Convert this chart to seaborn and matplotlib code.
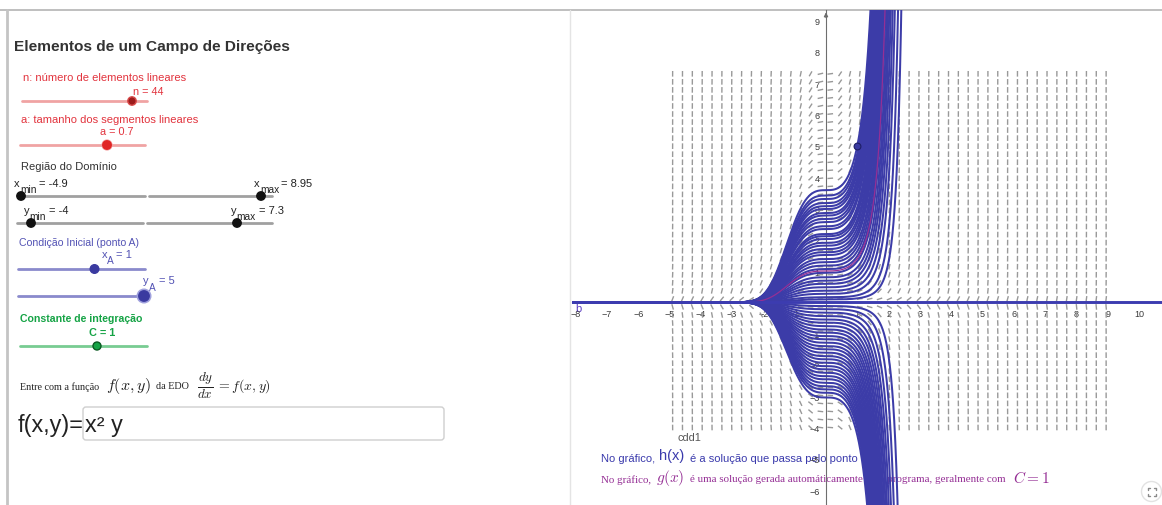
import numpy as np
import pandas as pd
import matplotlib
matplotlib.use("Agg")
import matplotlib.pyplot as plt
import seaborn as sns
from matplotlib.collections import LineCollection
from matplotlib.patches import Circle, FancyBboxPatch

# ------------------------------------------------------------------ data
n_elem = 44          # número de elementos lineares
a_len = 0.7          # tamanho dos segmentos lineares
x_min, x_max = -4.9, 8.95
y_min, y_max = -4.0, 7.3
x_A, y_A = 1.0, 5.0  # condição inicial (ponto A)
C_g = 1.0            # constante de integração de g(x)

# constants C of the family y = C*exp(x^3/3) drawn in the graph (read at x = 0)
C_upper = [3.41, 3.30, 3.17, 3.07, 2.98, 2.85, 2.77, 2.66, 2.56, 2.43, 2.34,
           2.18, 2.11, 2.02, 1.90, 1.81, 1.70, 1.60, 1.51, 1.38, 1.28, 1.17,
           1.06, 0.94, 0.80, 0.69, 0.59, 0.48, 0.37, 0.27, 0.16, 0.09]
C_lower = [-0.12, -0.22, -0.33, -0.44, -0.55, -0.65, -0.76, -0.87, -0.97,
           -1.08, -1.18, -1.29, -1.40, -1.50, -1.61, -1.72, -1.82, -1.93,
           -2.04, -2.14, -2.25, -2.36, -2.46, -2.57, -2.68, -2.78, -2.89, -3.04]

x_ticks = [-8, -7, -6, -5, -4, -3, -2, -1, 1, 2, 3, 4, 5, 6, 7, 8, 9, 10]
y_ticks = [-6, -5, -4, -3, -2, -1, 1, 2, 3, 4, 5, 6, 7, 8, 9]


def f(x, y):
    return x ** 2 * y


# ------------------------------------------------------------------ style
sns.set_theme(style="white")
plt.rcParams["font.family"] = ["Liberation Sans", "DejaVu Sans"]
plt.rcParams["mathtext.fontset"] = "cm"

W, H = 1162, 506
fig = plt.figure(figsize=(W / 100, H / 100), dpi=100)
fig.patch.set_facecolor("white")

# background / left panel in pixel coordinates
bg = fig.add_axes([0, 0, 1, 1])
bg.set_xlim(0, W)
bg.set_ylim(H, 0)
bg.axis("off")

BLUE = "#3c3ca8"
PURPLE = "#952f95"
RED_TXT = "#e2333d"

# frame lines
bg.plot([0, W], [10.5, 10.5], color="#b4b4b4", lw=1.2)
bg.plot([7, 7], [10.5, H], color="#c4c4c4", lw=2.0)
bg.plot([570, 570], [10.5, H], color="#e4e4e4", lw=1.0)

# title
bg.text(14, 47, "Elementos de um Campo de Direções", fontsize=11.1,
        fontweight="bold", color="#333333", va="center", ha="left")


def slider(x0, x1, y, kx, line_c, knob_c, r=4.2, edge=None, halo=None, halo_r=0):
    bg.plot([x0, x1], [y, y], color=line_c, lw=2.0, solid_capstyle="round", zorder=2)
    if halo is not None:
        bg.add_patch(Circle((kx, y), halo_r, facecolor=halo, edgecolor="none", zorder=3))
    bg.add_patch(Circle((kx, y), r, facecolor=knob_c,
                        edgecolor=edge if edge else knob_c, lw=1.0, zorder=4))


def txt(x, y, s, c="#222222", fs=8.0, **kw):
    bg.text(x, y, s, color=c, fontsize=fs, va="center", ha="left", **kw)


# n slider
txt(23, 78, "n: número de elementos lineares", RED_TXT)
bg.text(148, 92, f"n = {n_elem}", color=RED_TXT, fontsize=7.8, va="center", ha="center")
slider(22, 147, 102, 132, "#f0a3a3", "#9c1b1b", r=4.2, edge="#d94a4a")

# a slider
txt(21, 120, "a: tamanho dos segmentos lineares", RED_TXT)
bg.text(117, 132, f"a = {a_len}", color=RED_TXT, fontsize=7.8, va="center", ha="center")
slider(20, 145, 146, 107, "#f0a3a3", "#e02525", r=4.2, halo="#f3a0a0", halo_r=5.6)

# domain
txt(21, 167, "Região do Domínio", "#333333")
txt(14, 184, "x", "#222222")
txt(20.5, 190, "min", "#222222", fs=7.3)
txt(39, 184, f"= {x_min}", "#222222")
slider(20, 145, 197, 21, "#a0a0a0", "#111111", r=4.2)
txt(254, 184, "x", "#222222")
txt(260, 190, "max", "#222222", fs=7.3)
txt(281, 184, f"= {x_max}", "#222222")
slider(149, 272, 197, 261, "#a0a0a0", "#111111", r=4.2)

txt(23.5, 211, "y", "#222222")
txt(29, 217, "min", "#222222", fs=7.3)
txt(49, 211, f"= {int(y_min)}", "#222222")
slider(17, 143, 224, 31, "#a0a0a0", "#111111", r=4.2)
txt(231, 211, "y", "#222222")
txt(236.5, 217, "max", "#222222", fs=7.3)
txt(259, 211, f"= {y_max}", "#222222")
slider(147, 272, 224, 237, "#a0a0a0", "#111111", r=4.2)

# initial condition
BL_TXT = "#5252b4"
txt(19, 243, "Condição Inicial (ponto A)", BL_TXT, fs=7.6)
txt(101.5, 255, "x", BL_TXT)
txt(107, 261.5, "A", BL_TXT, fs=7.3)
txt(116, 255, f"= {int(x_A)}", BL_TXT)
slider(18, 145, 270, 94.5, "#8a8acc", "#3a3aa0", r=4.3)
txt(143, 281, "y", BL_TXT)
txt(149, 288, "A", BL_TXT, fs=7.3)
txt(159, 281, f"= {int(y_A)}", BL_TXT)
slider(18, 145, 297, 144, "#8a8acc", "#3a3aa0", r=5.2, halo="#9fa0dd", halo_r=7.5)

# integration constant
GR = "#15a345"
txt(20, 319, "Constante de integração", GR, fs=7.6, fontweight="bold")
bg.text(102, 333, f"C = {int(C_g)}", color=GR, fontsize=7.8, fontweight="bold",
        va="center", ha="center")
slider(20, 147, 347, 97, "#78cc92", "#15a345", r=4.0, edge="#0a5a22")

# ODE entry line
bg.text(20.5, 387, "Entre com a função", fontsize=7.3, family="Liberation Serif",
        color="#222222", va="center", ha="left")
bg.text(106, 386, r"$f(x,y)$", fontsize=11.5, color="#222222", va="center", ha="left")
bg.text(156, 387, "da EDO", fontsize=7.3, family="Liberation Serif",
        color="#222222", va="center", ha="left")
bg.text(197, 386, r"$\frac{dy}{dx}$", fontsize=13.5, color="#222222", va="center", ha="left")
bg.text(216, 386, r"$= f(x,y)$", fontsize=10, color="#222222", va="center", ha="left")

bg.text(18, 426, "f(x,y)=", fontsize=16.8, color="#222222", va="center", ha="left")
bg.add_patch(FancyBboxPatch((83, 408), 361, 33, boxstyle="round,pad=0,rounding_size=3",
                            facecolor="white", edgecolor="#cfcfcf", lw=1.0))
bg.text(85, 426, "x² y", fontsize=16.8, color="#222222", va="center", ha="left")

# texts under the graph
bg.text(678, 438, "cdd1", fontsize=7.8, color="#555555", va="center", ha="left")
TB = "#3a3aac"
bg.text(601, 459, "No gráfico,", fontsize=8.0, color=TB, va="center", ha="left")
bg.text(659, 456, "h(x)", fontsize=10.5, color=TB, va="center", ha="left")
bg.text(690, 459, "é a solução que passa pelo ponto", fontsize=8.0, color=TB,
        va="center", ha="left")
bg.text(601, 480, "No gráfico,", fontsize=7.9, family="Liberation Serif",
        color=PURPLE, va="center", ha="left")
bg.text(656, 478, r"$g(x)$", fontsize=11, color=PURPLE, va="center", ha="left")
bg.text(690, 480, "é uma solução gerada automáticamente pelo programa, geralmente com",
        fontsize=7.9, family="Liberation Serif", color=PURPLE, va="center", ha="left")
bg.text(1013, 478, r"$C = 1$", fontsize=11, color=PURPLE, va="center", ha="left")
bg.text(575, 309, "b", fontsize=8, color="#5a3cc0", va="center", ha="left")

# fullscreen button
bg.add_patch(Circle((1151.5, 492.5), 10, facecolor="white", edgecolor="#e2e2e2", lw=1.0))
cx, cy, s, k = 1151.5, 492.5, 4.0, 2.0
for sx in (-1, 1):
    for sy in (-1, 1):
        bg.plot([cx + sx * s, cx + sx * s, cx + sx * (s - k)],
                [cy + sy * (s - k), cy + sy * s, cy + sy * s], color="#8a8a8a", lw=1.0)

# ------------------------------------------------------------------ graph
x0_px, y0_px, scale = 826.0, 303.3, 31.3
left_px, right_px, top_px, bot_px = 572, W, 10.5, H
ax = fig.add_axes([left_px / W, 0, (right_px - left_px) / W, (bot_px - top_px) / H])
ax.set_facecolor("none")
ax.set_xlim((left_px - x0_px) / scale, (right_px - x0_px) / scale)
ax.set_ylim((y0_px - bot_px) / scale, (y0_px - top_px) / scale)

ax.spines["left"].set_position(("data", 0))
ax.spines["bottom"].set_position(("data", 0))
ax.spines["top"].set_visible(False)
ax.spines["right"].set_visible(False)
for sp in ("left", "bottom"):
    ax.spines[sp].set_color("#6e6e6e")
    ax.spines[sp].set_linewidth(0.8)
ax.set_axisbelow(True)
ax.set_xticks(x_ticks)
ax.set_yticks(y_ticks)
ax.tick_params(axis="both", direction="out", length=3, width=0.8, color="#6e6e6e",
               labelsize=6.5, labelcolor="#3a3a3a", pad=1.5)

# direction field
gx = np.linspace(x_min, x_max, n_elem + 1)
gy = np.linspace(y_min, y_max, n_elem + 1)
GX, GY = np.meshgrid(gx, gy)
S = f(GX, GY)
norm = np.sqrt(1 + S ** 2)
L = a_len * min(gx[1] - gx[0], gy[1] - gy[0])
dx = 0.5 * L / norm
dy = 0.5 * L * S / norm
segs = np.stack([np.stack([GX - dx, GY - dy], -1), np.stack([GX + dx, GY + dy], -1)], -2)
segs = segs.reshape(-1, 2, 2)
ax.add_collection(LineCollection(segs, colors="#999999", linewidths=1.0, zorder=2))

# solution curves
xs = np.linspace(-8.4, 2.7, 2600)
rows = []
for i, C in enumerate(C_upper + C_lower):
    ys = C * np.exp(xs ** 3 / 3)
    m = np.abs(ys) <= 40
    rows.append(pd.DataFrame({"x": xs[m], "y": ys[m], "curve": i}))
df = pd.concat(rows, ignore_index=True)
sns.lineplot(data=df, x="x", y="y", units="curve", estimator=None, sort=False,
             color=BLUE, linewidth=1.45, ax=ax, legend=False, zorder=3)

# h(x): solution through A
yh = y_A * np.exp((xs ** 3 - x_A ** 3) / 3)
mh = np.abs(yh) <= 40
df_h = pd.DataFrame({"x": xs[mh], "y": yh[mh]})
sns.lineplot(data=df_h, x="x", y="y", estimator=None, sort=False, color=BLUE,
             linewidth=1.45, ax=ax, legend=False, zorder=3)

# g(x): C = 1
yg = C_g * np.exp(xs ** 3 / 3)
mg = np.abs(yg) <= 40
df_g = pd.DataFrame({"x": xs[mg], "y": yg[mg]})
sns.lineplot(data=df_g, x="x", y="y", estimator=None, sort=False, color=PURPLE,
             linewidth=0.9, ax=ax, legend=False, zorder=4)

# C = 0 solution (line b)
ax.axhline(0, color="#3c3cb0", lw=2.1, zorder=5)

# point A
ax.scatter([x_A], [y_A], s=24, color="#3a3aa0", edgecolor="#1e1e66", linewidth=0.8, zorder=6)

# arrow on y axis
ylim_top = ax.get_ylim()[1]
ax.annotate("", xy=(0, ylim_top), xytext=(0, ylim_top - 0.35),
            arrowprops=dict(arrowstyle="-|>", color="#6e6e6e", lw=0.8, mutation_scale=6),
            zorder=2)
ax.set_xlabel("")
ax.set_ylabel("")

fig.savefig("out.png", dpi=100, facecolor="white")
